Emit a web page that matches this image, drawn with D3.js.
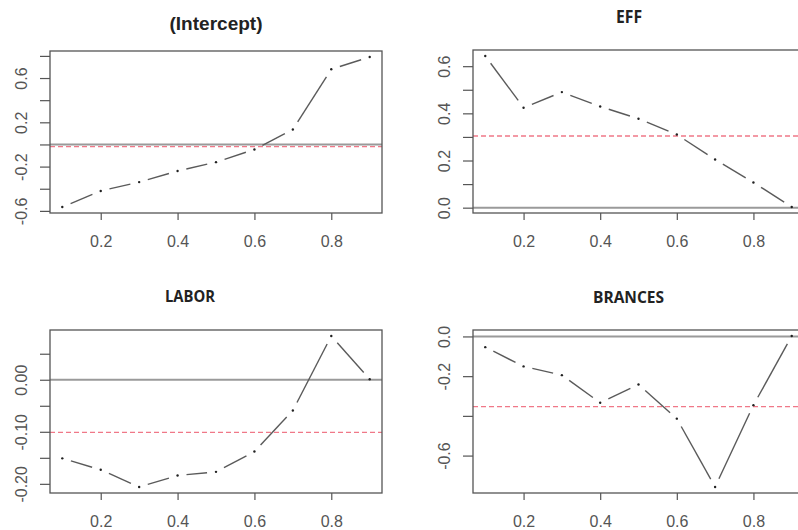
<!DOCTYPE html>
<html>
<head>
<meta charset="utf-8">
<script src="https://cdn.jsdelivr.net/npm/d3@7"></script>
<style>
  body { margin: 0; background: #fff; overflow: hidden; }
  svg { display: block; }
</style>
</head>
<body>
<div id="chart"></div>
<script>
// quantile levels and coefficient estimates
var taus = [0.1, 0.2, 0.3, 0.4, 0.5, 0.6, 0.7, 0.8, 0.9]
var interceptCoef = [-0.565, -0.42, -0.34, -0.24, -0.16, -0.045, 0.135, 0.68, 0.79]
var effCoef = [0.643, 0.424, 0.49, 0.429, 0.377, 0.31, 0.204, 0.107, 0.003]
var laborCoef = [-0.151, -0.173, -0.206, -0.184, -0.177, -0.138, -0.059, 0.084, 0.001]
var brancesCoef = [-0.054, -0.151, -0.195, -0.334, -0.242, -0.414, -0.758, -0.346, 0.002]
var olsCoef = [-0.02, 0.304, -0.101, -0.353]   // red dashed lines

var titles = ["(Intercept)", "EFF", "LABOR", "BRANCES"]
var xTicks = [0.2, 0.4, 0.6, 0.8]
var xTickLabels = ["0.2", "0.4", "0.6", "0.8"]
var yTicks = [
  [-0.6, -0.4, -0.2, 0, 0.2, 0.4, 0.6, 0.8],
  [0, 0.1, 0.2, 0.3, 0.4, 0.5, 0.6],
  [-0.2, -0.15, -0.1, -0.05, 0, 0.05],
  [-0.6, -0.4, -0.2, 0]
]
var yTickLabels = [
  ["-0.6", "", "-0.2", "", "0.2", "", "0.6", ""],
  ["0.0", "", "0.2", "", "0.4", "", "0.6"],
  ["-0.20", "", "-0.10", "", "0.00", ""],
  ["-0.6", "", "-0.2", "0.0"]
]
var coefs = [interceptCoef, effCoef, laborCoef, brancesCoef]

// layout of the four plot boxes (pixels)
var panels = [
  {left: 50, right: 382, top: 51, bottom: 213, tx: 216, ty: 30, tsize: 19, tfont: "Liberation Sans, Arial, sans-serif", tlen: 93},
  {left: 473, right: 804, top: 50, bottom: 213, tx: 629, ty: 23, tsize: 17, tfont: "Open Sans, sans-serif", tlen: 26},
  {left: 50, right: 382, top: 330, bottom: 493, tx: 190, ty: 302, tsize: 16, tfont: "Open Sans, sans-serif", tlen: 50},
  {left: 473, right: 804, top: 330, bottom: 493, tx: 628.5, ty: 303, tsize: 16, tfont: "Open Sans, sans-serif", tlen: 71}
]

var svg = d3.select("#chart").append("svg")
            .attr("width", 798)
            .attr("height", 530)

var tickFont = "Liberation Sans, Arial, sans-serif"

panels.forEach(function(p, i) {
  var vals = coefs[i]
  var ext = d3.extent(vals)
  var pad = (ext[1] - ext[0]) * 0.04   // R style 4% axis extension
  var xPad = (d3.max(taus) - d3.min(taus)) * 0.04

  var x = d3.scaleLinear().domain([d3.min(taus) - xPad, d3.max(taus) + xPad]).range([p.left, p.right])
  var y = d3.scaleLinear().domain([ext[0] - pad, ext[1] + pad]).range([p.bottom, p.top])

  var g = svg.append("g")
  var clipId = "clip" + i
  g.append("clipPath").attr("id", clipId)
    .append("rect")
    .attr("x", p.left).attr("y", p.top)
    .attr("width", p.right - p.left).attr("height", p.bottom - p.top)

  // x axis
  var xAxis = d3.axisBottom(x).tickValues(xTicks).tickSize(7).tickPadding(16)
                .tickFormat((d, k) => xTickLabels[k])
  var xg = g.append("g").attr("transform", "translate(0," + p.bottom + ")").call(xAxis)
  xg.select(".domain").remove()
  xg.selectAll("line").attr("stroke", "#555").attr("stroke-width", 1.2)
  xg.selectAll("text").attr("font-family", tickFont).attr("font-size", 16).attr("fill", "#555")

  // y axis, labels rotated like base R
  var yAxis = d3.axisLeft(y).tickValues(yTicks[i]).tickSize(10)
                .tickFormat((d, k) => yTickLabels[i][k])
  var yg = g.append("g").attr("transform", "translate(" + p.left + ",0)").call(yAxis)
  yg.select(".domain").remove()
  yg.selectAll("line").attr("stroke", "#555").attr("stroke-width", 1.2)
  yg.selectAll("text")
    .attr("font-family", tickFont).attr("font-size", 16).attr("fill", "#555")
    .attr("text-anchor", "middle").attr("dy", null)
    .attr("x", null)
    .attr("transform", "translate(-23,0) rotate(-90)")

  var inner = g.append("g").attr("clip-path", "url(#" + clipId + ")")

  // zero line
  inner.append("line")
    .attr("x1", p.left).attr("x2", p.right)
    .attr("y1", y(0)).attr("y2", y(0))
    .attr("stroke", "#9a9a9a").attr("stroke-width", 2)

  // OLS estimate
  inner.append("line")
    .attr("x1", p.left).attr("x2", p.right)
    .attr("y1", y(olsCoef[i])).attr("y2", y(olsCoef[i]))
    .attr("stroke", "#f07888").attr("stroke-width", 1.3)
    .attr("stroke-dasharray", "5,3")

  // type = "b": segments with gaps around points
  var pts = taus.map((t, k) => [x(t), y(vals[k])])
  var gap = 9
  var segs = d3.pairs(pts).map(function(pr) {
    var dx = pr[1][0] - pr[0][0], dy = pr[1][1] - pr[0][1]
    var len = Math.sqrt(dx * dx + dy * dy)
    if (len <= 2 * gap) return null
    var ux = dx / len, uy = dy / len
    return [pr[0][0] + ux * gap, pr[0][1] + uy * gap, pr[1][0] - ux * gap, pr[1][1] - uy * gap]
  }).filter(s => s)

  inner.selectAll(".seg").data(segs).enter()
    .append("line")
    .attr("x1", d => d[0]).attr("y1", d => d[1])
    .attr("x2", d => d[2]).attr("y2", d => d[3])
    .attr("stroke", "#5a5a5a").attr("stroke-width", 1.4)

  inner.selectAll(".pt").data(pts).enter()
    .append("circle")
    .attr("cx", d => d[0]).attr("cy", d => d[1])
    .attr("r", 1.2).attr("fill", "#222")

  // plot box
  g.append("rect")
    .attr("x", p.left).attr("y", p.top)
    .attr("width", p.right - p.left).attr("height", p.bottom - p.top)
    .attr("fill", "none").attr("stroke", "#555").attr("stroke-width", 1.3)

  g.append("text")
    .attr("x", p.tx).attr("y", p.ty)
    .attr("text-anchor", "middle")
    .attr("font-family", p.tfont).attr("font-weight", "bold")
    .attr("font-size", p.tsize).attr("fill", "#222")
    .attr("textLength", p.tlen).attr("lengthAdjust", "spacingAndGlyphs")
    .text(titles[i])
})
</script>
</body>
</html>
